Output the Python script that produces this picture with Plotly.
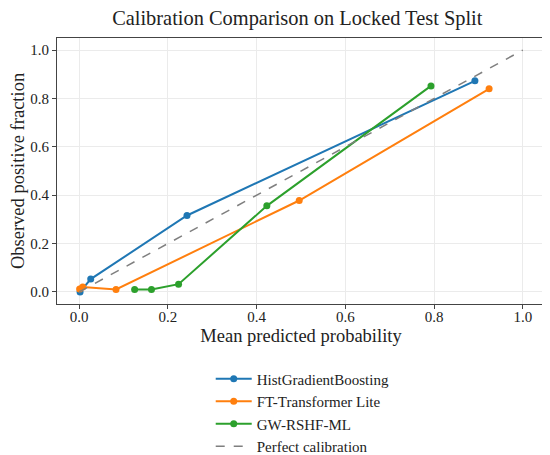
import plotly.graph_objects as go

# calibration curve points
hgb_x = [0.002, 0.026, 0.243, 0.892]
hgb_y = [0.0, 0.053, 0.316, 0.873]

ftt_x = [0.001, 0.008, 0.083, 0.496, 0.924]
ftt_y = [0.012, 0.02, 0.01, 0.378, 0.840]

gw_x = [0.125, 0.163, 0.224, 0.423, 0.793]
gw_y = [0.01, 0.01, 0.032, 0.356, 0.852]

perfect = [0.0, 1.0]
tick_vals = [0.0, 0.2, 0.4, 0.6, 0.8, 1.0]

font_family = "Liberation Serif"

fig = go.Figure()
fig.add_trace(go.Scatter(
    x=hgb_x, y=hgb_y, mode='lines+markers', name='HistGradientBoosting',
    line=dict(color='#1f77b4', width=2), marker=dict(size=7, color='#1f77b4')
))
fig.add_trace(go.Scatter(
    x=ftt_x, y=ftt_y, mode='lines+markers', name='FT-Transformer Lite',
    line=dict(color='#ff7f0e', width=2), marker=dict(size=7, color='#ff7f0e')
))
fig.add_trace(go.Scatter(
    x=gw_x, y=gw_y, mode='lines+markers', name='GW-RSHF-ML',
    line=dict(color='#2ca02c', width=2), marker=dict(size=7, color='#2ca02c')
))
fig.add_trace(go.Scatter(
    x=perfect, y=perfect, mode='lines', name='Perfect calibration',
    line=dict(color='#7f7f7f', width=1.5, dash='dash')
))

axis_style = dict(
    range=[-0.05, 1.05],
    tickvals=tick_vals,
    tickformat='.1f',
    showgrid=True,
    gridcolor='#ebebeb',
    gridwidth=1,
    zeroline=False,
    showline=True,
    linecolor='#444444',
    linewidth=1.2,
    mirror=True,
    ticks='outside',
    ticklen=4,
    tickcolor='#444444',
    automargin=False,
    tickfont=dict(family=font_family, size=15, color='#222222'),
)

fig.update_layout(
    width=550,
    height=455,
    margin=dict(l=49, r=13, t=30, b=159, autoexpand=False),
    paper_bgcolor='white',
    plot_bgcolor='white',
    font=dict(family=font_family, color='#222222'),
    title=dict(
        text='Calibration Comparison on Locked Test Split',
        x=0.526, xanchor='center', y=0.979, yanchor='middle',
        font=dict(family=font_family, size=20.4, color='#222222')
    ),
    xaxis=dict(axis_style, ticklabelstandoff=-5,
               title=dict(text='Mean predicted probability',
                          font=dict(family=font_family, size=18.5),
                          standoff=4)),
    yaxis=dict(axis_style, title=dict(text='Observed positive fraction',
                                      font=dict(family=font_family, size=18.5),
                                      standoff=6)),
    legend=dict(
        x=0.315, xanchor='left', y=-0.22, yanchor='top',
        font=dict(family=font_family, size=15, color='#222222'),
        bgcolor='rgba(255,255,255,0)',
        tracegroupgap=0,
        itemwidth=36,
    ),
)

fig.write_html("out.html")
